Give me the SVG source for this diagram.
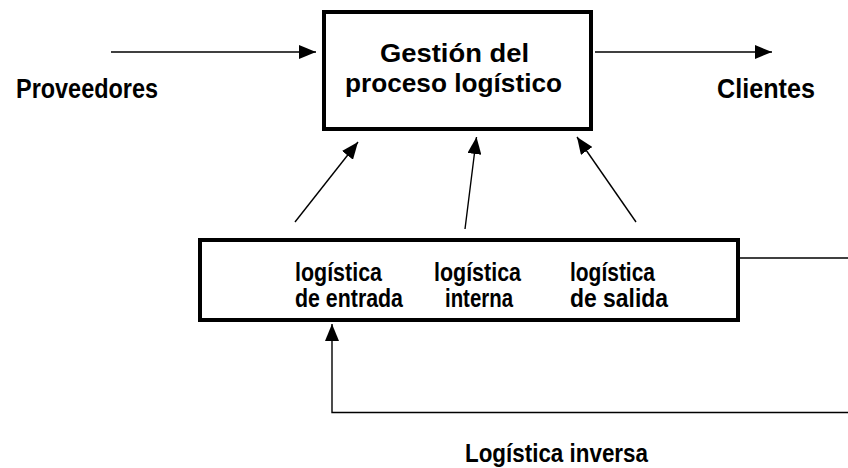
<svg xmlns="http://www.w3.org/2000/svg" width="848" height="468" viewBox="0 0 848 468">
  <style>
    .box { fill: #fff; stroke: #000; stroke-width: 4; }
    .wire { fill: none; stroke: #000; stroke-width: 1.4; }
    .lbl { font-family: "Liberation Sans", Arial, sans-serif; font-weight: bold; fill: #000; }
  </style>
  <defs>
    <marker id="head" markerUnits="userSpaceOnUse" markerWidth="18" markerHeight="14" refX="17" refY="7" orient="auto">
      <path d="M0,0 L17,7 L0,14 Z" fill="#000"/>
    </marker>
  </defs>

  <rect width="848" height="468" fill="#fff"/>

  <!-- connectors -->
  <g id="connectors">
    <line class="wire" x1="111" y1="52" x2="316" y2="52" marker-end="url(#head)"/>
    <line class="wire" x1="595" y1="52" x2="772" y2="52" marker-end="url(#head)"/>
    <line class="wire" x1="295" y1="222" x2="358" y2="142" marker-end="url(#head)"/>
    <line class="wire" x1="465" y1="229" x2="476.5" y2="137" marker-end="url(#head)"/>
    <line class="wire" x1="636" y1="222" x2="577" y2="137" marker-end="url(#head)"/>
    <line class="wire" x1="740" y1="258" x2="848" y2="258"/>
    <polyline class="wire" points="848,412.5 332,412.5 332,324" marker-end="url(#head)"/>
  </g>

  <!-- main management box -->
  <g id="gestion">
    <rect class="box" x="324" y="12" width="267" height="117"/>
    <text class="lbl" font-size="26" x="380" y="62" textLength="149" lengthAdjust="spacingAndGlyphs">Gestión del</text>
    <text class="lbl" font-size="26" x="345" y="92" textLength="217" lengthAdjust="spacingAndGlyphs">proceso logístico</text>
  </g>

  <g id="proveedores">
    <text class="lbl" font-size="27" x="16" y="98" textLength="142" lengthAdjust="spacingAndGlyphs">Proveedores</text>
  </g>

  <g id="clientes">
    <text class="lbl" font-size="27" x="717" y="98" textLength="98" lengthAdjust="spacingAndGlyphs">Clientes</text>
  </g>

  <!-- logistics stages box -->
  <g id="etapas">
    <rect class="box" x="200" y="240" width="538" height="80"/>
    <text class="lbl" font-size="25" x="295" y="281" textLength="87" lengthAdjust="spacingAndGlyphs">logística</text>
    <text class="lbl" font-size="25" x="295" y="307" textLength="108" lengthAdjust="spacingAndGlyphs">de entrada</text>
    <text class="lbl" font-size="25" x="434" y="281" textLength="87" lengthAdjust="spacingAndGlyphs">logística</text>
    <text class="lbl" font-size="25" x="445" y="307" textLength="68" lengthAdjust="spacingAndGlyphs">interna</text>
    <text class="lbl" font-size="25" x="570" y="281" textLength="85" lengthAdjust="spacingAndGlyphs">logística</text>
    <text class="lbl" font-size="25" x="570" y="307" textLength="98" lengthAdjust="spacingAndGlyphs">de salida</text>
  </g>

  <g id="inversa">
    <text class="lbl" font-size="25" x="465" y="462" textLength="183" lengthAdjust="spacingAndGlyphs">Logística inversa</text>
  </g>
</svg>
